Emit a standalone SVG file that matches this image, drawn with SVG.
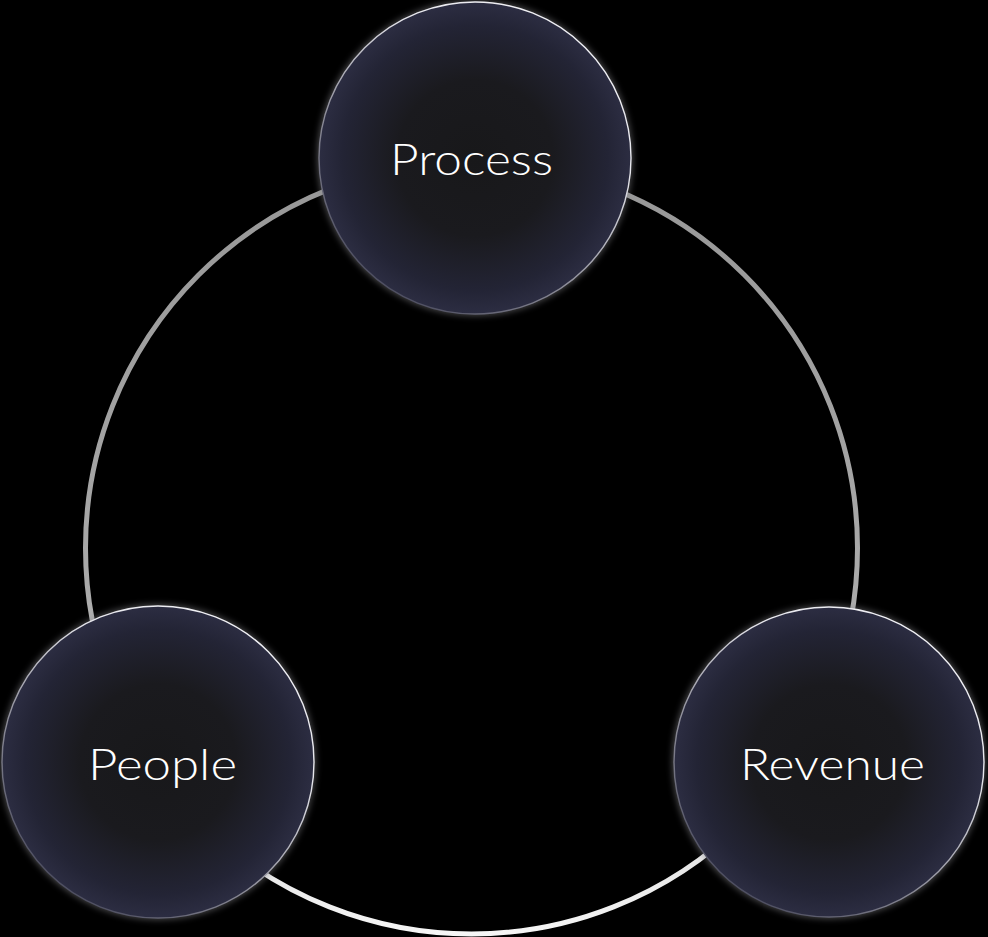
<svg xmlns="http://www.w3.org/2000/svg" width="988" height="937" viewBox="0 0 988 937">
  <defs>
    <radialGradient id="fillGrad" cx="0.5" cy="0.5" r="0.5">
      <stop offset="0" stop-color="#18181a"/>
      <stop offset="0.5" stop-color="#1a1a1e"/>
      <stop offset="0.85" stop-color="#232435"/>
      <stop offset="1" stop-color="#2c2d42"/>
    </radialGradient>
    <linearGradient id="rimGrad" x1="0.15" y1="1" x2="0.85" y2="0">
      <stop offset="0" stop-color="#3a3b50"/>
      <stop offset="0.35" stop-color="#8a8a96"/>
      <stop offset="0.7" stop-color="#e6e6ec"/>
      <stop offset="1" stop-color="#f4f4f8"/>
    </linearGradient>
    <linearGradient id="ringGrad" gradientUnits="userSpaceOnUse" x1="0" y1="162" x2="0" y2="936">
      <stop offset="0" stop-color="#979797"/>
      <stop offset="0.55" stop-color="#a9a9a9"/>
      <stop offset="0.85" stop-color="#dedede"/>
      <stop offset="1" stop-color="#f6f6f6"/>
    </linearGradient>
    <filter id="halo" x="-20%" y="-20%" width="140%" height="140%">
      <feGaussianBlur stdDeviation="3"/>
    </filter>
  </defs>
  <style>
    .halo { fill: #8a8a90; opacity: 0.5; filter: url(#halo); }
    .ball { fill: url(#fillGrad); stroke: url(#rimGrad); stroke-width: 1.4; }
    .label { font-family: Lato, "Open Sans", "Liberation Sans", sans-serif; font-weight: 300; font-size: 44px; fill: #ffffff; }
  </style>
  <rect x="0" y="0" width="988" height="937" fill="#000000"/>
  <g id="connectors">
    <circle cx="471.5" cy="548" r="386" fill="none" stroke="url(#ringGrad)" stroke-width="5"/>
  </g>
  <g id="node-process">
    <circle class="halo" cx="475" cy="158" r="158"/>
    <circle class="ball" cx="475" cy="158" r="156"/>
    <text class="label" x="390" y="175" textLength="163" lengthAdjust="spacingAndGlyphs">Process</text>
  </g>
  <g id="node-people">
    <circle class="halo" cx="158" cy="762" r="158"/>
    <circle class="ball" cx="158" cy="762" r="156"/>
    <text class="label" x="88" y="780" textLength="149" lengthAdjust="spacingAndGlyphs">People</text>
  </g>
  <g id="node-revenue">
    <circle class="halo" cx="829" cy="762" r="157"/>
    <circle class="ball" cx="829" cy="762" r="155"/>
    <text class="label" x="740" y="780" textLength="185" lengthAdjust="spacingAndGlyphs">Revenue</text>
  </g>
</svg>
